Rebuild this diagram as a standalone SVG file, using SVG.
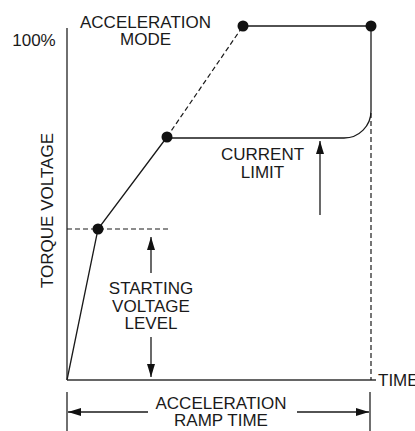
<svg xmlns="http://www.w3.org/2000/svg" width="415" height="431" viewBox="0 0 415 431">
<style>
.ln{fill:none;stroke:#1a1a1a;stroke-width:1.3}
.ax{fill:none;stroke:#333;stroke-width:1.4}
.ds{fill:none;stroke:#1a1a1a;stroke-width:1.2;stroke-dasharray:5 3}
.dot{fill:#111}
.t{font-family:"Liberation Sans",Arial,sans-serif;font-size:17px;fill:#1a1a1a;text-anchor:middle}
</style>
<defs>
<marker id="ah" markerUnits="userSpaceOnUse" markerWidth="14" markerHeight="8" refX="13" refY="4" orient="auto">
<path d="M0,0 L13,4 L0,8 Z" fill="#111"/>
</marker>
</defs>
<rect width="415" height="431" fill="#fff"/>
<g id="axes">
<line class="ax" x1="67" y1="28" x2="67" y2="380"/>
<line class="ax" x1="67" y1="380" x2="376" y2="380"/>
<line class="ax" x1="67" y1="392" x2="67" y2="431"/>
<line class="ax" x1="370" y1="392" x2="370" y2="431"/>
</g>
<g id="connectors">
<path class="ln" d="M67,380 L98,229 L167,137"/>
<path class="ds" d="M167,137 L243,26"/>
<path class="ln" d="M243,26 L371,26 L371,111 A27,27 0 0 1 344,138 L167,138"/>
<path class="ds" d="M371,113 L371,380"/>
<path class="ds" d="M67,229 L171,229"/>
<line class="ln" x1="151" y1="273" x2="151" y2="237" marker-end="url(#ah)"/>
<line class="ln" x1="151" y1="337" x2="151" y2="377" marker-end="url(#ah)"/>
<line class="ln" x1="320" y1="215" x2="320" y2="141" marker-end="url(#ah)"/>
<line class="ln" x1="148" y1="412" x2="68" y2="412" marker-end="url(#ah)"/>
<line class="ln" x1="297" y1="412" x2="369" y2="412" marker-end="url(#ah)"/>
</g>
<g id="points">
<circle class="dot" cx="98" cy="229" r="5.5"/>
<circle class="dot" cx="167" cy="137" r="5.5"/>
<circle class="dot" cx="243" cy="26" r="5.5"/>
<circle class="dot" cx="371" cy="26" r="5.5"/>
</g>
<g id="labels">
<text class="t" x="34" y="46">100%</text>
<text class="t" x="145.5" y="28">ACCELERATION</text>
<text class="t" x="145.5" y="45">MODE</text>
<text class="t" transform="translate(53,210.5) rotate(-90)">TORQUE VOLTAGE</text>
<text class="t" x="262.5" y="160">CURRENT</text>
<text class="t" x="262.5" y="178">LIMIT</text>
<text class="t" x="151" y="294">STARTING</text>
<text class="t" x="151" y="311.5">VOLTAGE</text>
<text class="t" x="151" y="329">LEVEL</text>
<text class="t" x="378" y="386" style="text-anchor:start">TIME</text>
<text class="t" x="221" y="409">ACCELERATION</text>
<text class="t" x="221" y="426">RAMP TIME</text>
</g>
</svg>
